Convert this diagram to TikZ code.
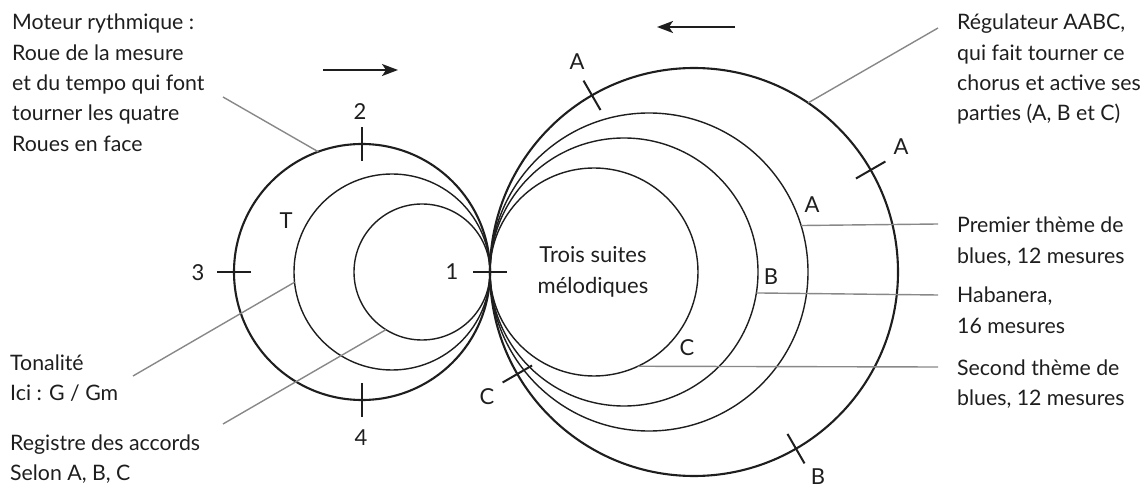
\documentclass[tikz,border=0pt]{standalone}
\usepackage{fontspec}
\setmainfont{Lato}
\usetikzlibrary{arrows.meta,calc}
\definecolor{ink}{HTML}{1E1E1E}
\definecolor{leadgray}{HTML}{888888}
\begin{document}
\begin{tikzpicture}[x=1pt,y=1pt,
  thickcirc/.style={circle, draw=ink, line width=2.1pt, inner sep=0pt, outer sep=0pt},
  thincirc/.style={circle, draw=ink, line width=1.4pt, inner sep=0pt, outer sep=0pt},
  tickmark/.style={draw=ink, line width=2pt},
  leader/.style={draw=leadgray, line width=1.4pt},
  lbl/.style={font=\fontsize{22}{26}\selectfont, text=ink, inner sep=0pt},
  blk/.style={font=\fontsize{21.3}{30.3}\selectfont, text=ink, align=left, inner sep=0pt, anchor=base west},
  dirarrow/.style={draw=ink, line width=2pt, -{Stealth[length=16pt,width=12pt,inset=4pt]}}]
\useasboundingbox (0,0) rectangle (1144,488);

% left wheels
\node[thickcirc, minimum size=256pt] (LO) at (362,216) {};
\node[thincirc, minimum size=196pt] (LM) at (392,216) {};
\node[thincirc, minimum size=136pt] (LI) at (422,216) {};
% right wheels
\node[thickcirc, minimum size=408pt] (RO) at (694,216) {};
\node[thincirc, minimum size=318pt] (RA) at (649,216) {};
\node[thincirc, minimum size=268pt] (RB) at (624,216) {};
\node[thincirc, minimum size=208pt] (RC) at (594,216) {};

% ticks
\foreach \a in {0,90,180,270}
  \draw[tickmark] ($(LO.center)+(\a:111pt)$) -- ($(LO.center)+(\a:145pt)$);
\foreach \a in {120,30,-60,210}
  \draw[tickmark] ($(RO.center)+(\a:187pt)$) -- ($(RO.center)+(\a:221pt)$);

% tick labels
\node[lbl] (n1) at (452,216) {1};
\node[lbl] (n2) at (360,376) {2};
\node[lbl] (n3) at (198,215) {3};
\node[lbl] (n4) at (361,50) {4};
\node[lbl] (nT) at (286,267) {T};
\node[lbl] (tA1) at (577,426) {A};
\node[lbl] (tA2) at (901,341) {A};
\node[lbl] (tB) at (818,11) {B};
\node[lbl] (tC) at (487,91) {C};
\node[lbl] (iA) at (812,283) {A};
\node[lbl] (iB) at (771,211) {B};
\node[lbl] (iC) at (687,140) {C};
\node[lbl, align=center, font=\fontsize{22}{31}\selectfont] (trois) at (593,216) {Trois suites\\mélodiques};

% direction arrows
\coordinate (la1) at (323,418); \coordinate (la2) at (398,418);
\draw[dirarrow] (la1) -- (la2);
\coordinate (ra1) at (735,461); \coordinate (ra2) at (657,461);
\draw[dirarrow] (ra1) -- (ra2);

% text blocks (anchor = baseline of last line)
\node[blk] (tMot) at (12,336.8) {Moteur rythmique :\\Roue de la mesure\\et du tempo qui font\\tourner les quatre\\Roues en face};
\node[blk] (tTon) at (10,87.7) {Tonalité\\Ici : G / Gm};
\node[blk] (tReg) at (10,7.7) {Registre des accords\\Selon A, B, C};
\node[blk] (tRegu) at (957,367.1) {Régulateur AABC,\\qui fait tourner ce\\chorus et active ses\\parties (A, B et C)};
\node[blk] (tPrem) at (957,224.7) {Premier thème de\\blues, 12 mesures};
\node[blk] (tHab) at (957,154.7) {Habanera,\\16 mesures};
\node[blk] (tSec) at (957,82.7) {Second thème de\\blues, 12 mesures};

% leaders
\coordinate (lMot) at (223,391);
\draw[leader] (lMot) -- (LO.110);
\coordinate (lTon) at (133,112);
\draw[leader] (lTon) -- (LM.186.4);
\coordinate (lReg) at (223,64);
\draw[leader] (lReg) -- (LI.238);
\coordinate (lRegu) at (938,460);
\draw[leader] (lRegu) -- (RO.56.3);
\coordinate (lPrem) at (938,264);
\draw[leader] (lPrem) -- (RA.17.6);
\coordinate (lHab) at (938,193);
\draw[leader] (lHab) -- (RB.-9.9);
\coordinate (lSec) at (938,121);
\draw[leader] (lSec) -- (RC.-65.9);
\end{tikzpicture}
\end{document}
